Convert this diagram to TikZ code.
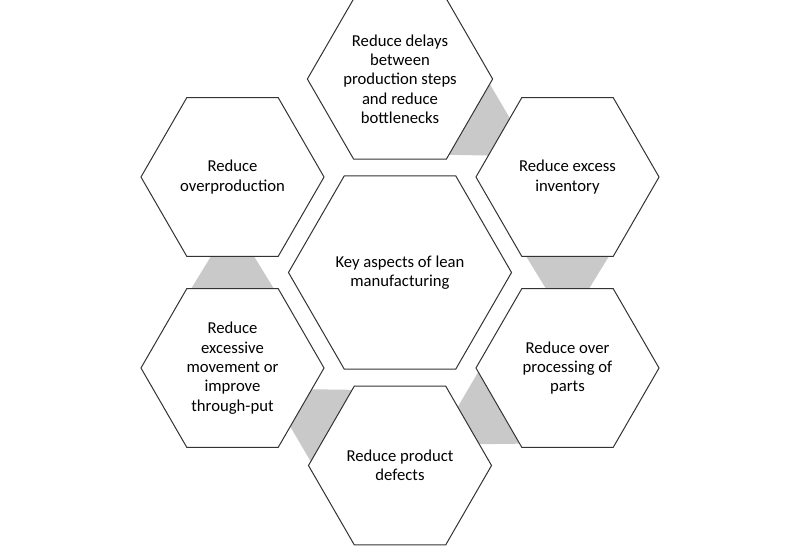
\documentclass[tikz,border=0pt]{standalone}
\usepackage{fontspec}
\setmainfont{Carlito}
\usetikzlibrary{shapes.geometric,calc,backgrounds}

\tikzset{
  hexa/.style={regular polygon, regular polygon sides=6, draw=black!80, line width=0.75pt,
    fill=white, minimum size=137.3pt, inner sep=0pt, outer sep=0pt, align=center,
    font=\fontsize{12.5}{14.5}\selectfont},
  centerhexa/.style={hexa, minimum size=167.3pt},
  gapfill/.style={fill=black!21}
}

\begin{document}
\begin{tikzpicture}[x=0.75pt, y=-0.75pt]
        % Frame
        \useasboundingbox (0,0) rectangle (799,546);

        % Define Variables
        \def\ap{59.4pt}
        \def\wide{31.1pt}
        \def\narrow{16.1pt}

        % Hexagons
        \node[centerhexa] (hub) at (400,272.5) {Key aspects of lean\\manufacturing};
        \node[hexa] (delays) at (400,79) {Reduce delays\\between\\production steps\\and reduce\\bottlenecks};
        \node[hexa] (inventory) at (567.5,177) {Reduce excess\\inventory};
        \node[hexa] (overprocessing) at (567.5,368) {Reduce over\\processing of\\parts};
        \node[hexa] (defects) at (400,465.5) {Reduce product\\defects};
        \node[hexa] (movement) at (232.5,368) {Reduce\\excessive\\movement or\\improve\\through-put};
        \node[hexa] (overproduction) at (232.5,177) {Reduce\\overproduction};

        % Gray links
        \begin{scope}[on background layer]
        \foreach \a/\b in {delays/inventory, inventory/overprocessing, overprocessing/defects, defects/movement, movement/overproduction}
          \fill[gapfill] ($(\a)!\ap!(\b)!\wide!90:(\b)$) -- ($(\a)!\ap!(\b)!\wide!-90:(\b)$)
            -- ($(\b)!\ap!(\a)!\narrow!90:(\a)$) -- ($(\b)!\ap!(\a)!\narrow!-90:(\a)$) -- cycle;
        \end{scope}
\end{tikzpicture}
\end{document}
